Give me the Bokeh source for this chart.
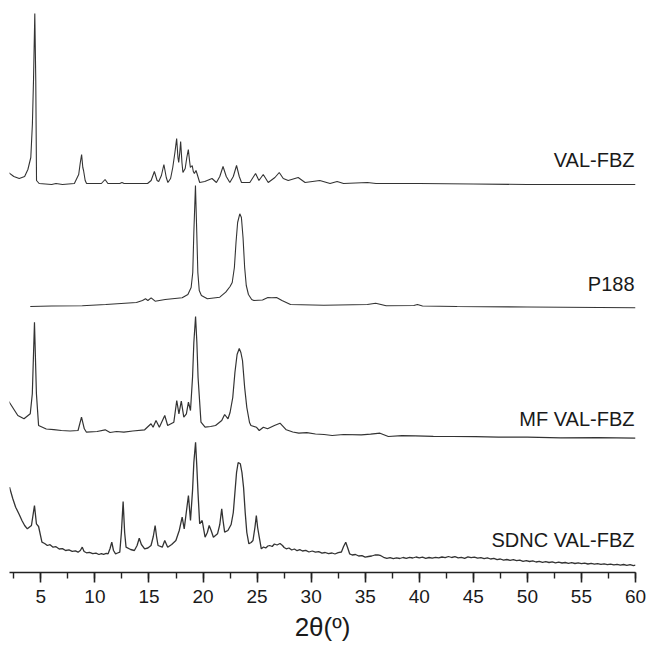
from bokeh.plotting import figure
from bokeh.models import Range1d, SingleIntervalTicker, ColumnDataSource
from bokeh.core.properties import value
from bokeh.embed import file_html
from bokeh.resources import INLINE

# ---- data (2theta in degrees, intensity in stacked arbitrary units) ----
valfbz_2theta = [2.0, 2.5, 3.0, 3.5, 3.8, 4.07, 4.22, 4.32, 4.44, 4.53, 4.6, 4.84, 6.0, 6.4, 7.0, 8.1, 8.5, 8.65, 8.77, 8.88, 8.95,
                 9.1, 9.23, 10.6, 10.94, 11.2, 12.3, 12.5, 12.7, 14.87, 15.2, 15.5, 15.75, 15.9, 16.15, 16.38, 16.6, 16.75,
                 17.0, 17.2, 17.4, 17.56, 17.68, 17.75, 17.85, 17.93, 18.05, 18.14, 18.35, 18.5, 18.64, 18.75, 18.83, 19.0,
                 19.1, 19.2, 19.35, 19.44, 19.69, 20.16, 20.83, 21.24, 21.55, 21.85, 22.15, 22.48, 22.8, 23.1, 23.35, 23.56,
                 24.33, 24.86, 25.17, 25.57, 26.03, 26.65, 27.05, 27.42, 27.88, 28.8, 29.44, 30.8, 31.75, 32.4, 33.0, 35.2,
                 36.0, 40.0, 45.0, 50.0, 55.0, 60.0]
valfbz_int = [400, 396, 394, 396, 403, 415, 449, 492, 559, 492, 392, 389, 388, 389, 388, 389, 398, 410, 418, 405, 402,
              392, 389, 389, 393, 389, 389, 390, 389, 389, 392, 401, 392, 391, 397, 408, 395, 390,
              394, 405, 420, 434, 415, 410, 420, 431, 410, 400, 404, 415, 423, 412, 405, 407,
              401, 399, 402, 399, 390, 391, 394, 390, 396, 406, 396, 390, 396, 407, 396, 390,
              390, 399, 392, 398, 390, 395, 400, 394, 392, 395, 390, 392, 389, 391, 389, 390,
              389, 389, 388.5, 388, 388, 388]

p188_2theta = [4.02, 6.0, 8.83, 11.0, 13.84, 14.4, 14.68, 14.9, 15.2, 15.57, 16.5, 18.07, 18.6, 18.9, 19.05, 19.15, 19.3,
               19.42, 19.52, 19.65, 19.85, 20.4, 21.55, 22.1, 22.5, 22.7, 22.9, 23.05, 23.2, 23.4, 23.55, 23.7, 23.85,
               24.0, 24.2, 24.5, 24.7, 25.5, 26.0, 26.35, 26.8, 27.3,
               28.09, 31.17, 35.2, 35.97, 36.94, 39.5, 39.83, 40.3, 43.5, 50.0, 60.0]
p188_int = [266, 266.5, 266.7, 268, 270, 272, 273.7, 272, 274.7, 271.3, 273, 274.7, 278, 285, 300, 340, 387,
            340, 300, 282, 277, 273.7, 275.3, 280.3, 286, 290, 305, 330, 350, 358.7, 355, 335, 305,
            287, 278, 273, 272, 272.5, 275, 274.7, 275, 272,
            268, 267.3, 268, 269.3, 266.7, 267, 268, 266.5, 266, 265.5, 264.7]

mf_2theta = [1.98, 2.87, 3.44, 4.02, 4.21, 4.41, 4.59, 4.79, 5.5, 6.2, 6.9, 7.7, 8.44, 8.76, 9.02, 9.22, 10.2, 10.95, 11.4,
             12.0, 12.68, 13.5, 14.6, 15.19, 15.38, 15.65, 15.96, 16.46, 16.73, 17.3, 17.57, 17.77, 17.99, 18.22, 18.46,
             18.65, 18.84, 19.03, 19.15, 19.31, 19.43, 19.54, 19.81, 20.19, 20.7, 21.16, 21.73, 22.0, 22.31, 22.5, 22.75,
             22.95, 23.15, 23.35, 23.5, 23.65, 23.85, 24.05, 24.3, 24.43,
             24.93, 25.2, 25.58, 25.97, 26.6, 27.12, 27.7, 28.3, 28.86, 29.6, 30.4, 31.2, 31.94, 33.0, 34.63, 35.5, 36.37,
             37.14, 38.4, 39.64, 41.3, 43.1, 45.2, 47.33, 50.0, 53.1, 56.5, 60.0]
mf_int = [172, 157, 153.7, 158.7, 178.7, 250.3, 178.7, 147, 143.5, 142.8, 142, 141.5, 142, 155.3, 143.7, 140.3, 141, 142.7, 140,
          141, 140.3, 141.5, 142.7, 148.7, 145.3, 152, 145.3, 157, 147, 150.3, 172, 158.7, 171.3, 155.3, 158.7,
          170.3, 162, 195.3, 230, 256, 230, 195.3, 150.3, 145.3, 146, 147, 152, 158, 153.7, 160, 175,
          200, 218, 224, 220, 212, 185, 165, 150, 147,
          145.3, 142, 145.3, 143.7, 147, 149.3, 142.7, 140.5, 139.3, 139.8, 138.5, 138, 137, 138, 137.7, 138.3, 139.3,
          136, 136.8, 136.7, 136.2, 136, 135.8, 135.3, 135.3, 134.7, 134.8, 134.3]

sdnc_2theta = [2.1, 2.4, 2.67, 3.0, 3.25, 3.5, 3.75, 4.13, 4.41, 4.59, 4.79, 5.1, 5.35, 5.6, 5.85, 6.13, 6.4, 6.7, 7.0,
               7.29, 7.6, 7.9, 8.2, 8.44, 8.65, 8.83, 9.0, 9.22, 9.5, 9.8, 10.1, 10.37, 10.6, 10.8, 11.05, 11.22, 11.4,
               11.56, 11.72, 11.91, 12.1, 12.3, 12.45, 12.61, 12.75, 12.88, 13.3, 13.65, 13.9, 14.1, 14.3, 14.6, 14.9,
               15.19, 15.4, 15.57, 15.7, 15.84, 16.23, 16.46, 16.73, 17.1, 17.49, 17.8, 18.07, 18.26, 18.45, 18.65,
               18.84, 19.03, 19.15, 19.31, 19.43, 19.54, 19.69, 19.92, 20.19, 20.4, 20.57, 20.75, 20.96, 21.34, 21.55,
               21.73, 21.85, 22.0, 22.3, 22.6, 22.8, 22.95, 23.1, 23.25, 23.45, 23.6, 23.75, 23.9, 24.05, 24.24, 24.45,
               24.62, 24.8, 24.93, 25.05, 25.2, 25.39, 25.6, 25.8, 26.0, 26.16, 26.4, 26.6, 26.85, 27.12, 27.35, 27.5,
               27.7, 27.95, 28.2, 28.45, 28.7, 28.95, 29.2, 29.5, 29.8, 30.1, 30.4, 30.7, 31.0, 31.3, 31.6, 31.94, 32.2,
               32.5, 32.8, 33.0, 33.2, 33.4, 33.56, 33.8, 34.1, 34.4, 34.7, 35.0, 35.3, 35.6, 35.9, 36.17, 36.45, 36.7,
               37.0, 37.3, 37.6, 37.9, 38.2, 38.5, 38.8, 39.1, 39.4, 39.7, 40.0, 40.3, 40.6, 40.9, 41.2, 41.5, 41.8,
               42.1, 42.4, 42.7, 43.0, 43.3, 43.6, 43.9, 44.2, 44.5, 44.8, 45.1, 45.4, 45.7, 46.0, 46.3, 46.6, 46.9,
               47.2, 47.5, 47.8, 48.1, 48.4, 48.7, 49.0, 49.3, 49.6, 49.9, 50.2, 50.5, 50.8, 51.1, 51.4, 51.7, 52.0,
               52.3, 52.6, 52.9, 53.2, 53.5, 53.8, 54.1, 54.4, 54.7, 55.0, 55.3, 55.6, 55.9, 56.2, 56.5, 56.8, 57.1,
               57.4, 57.7, 58.0, 58.3, 58.6, 58.9, 59.2, 59.5, 59.8, 60.0]
sdnc_int = [85.3, 74, 65.3, 58, 52, 47, 43.7, 47, 67, 48.7, 46, 30.3, 29, 27, 27.8, 25.3, 25.8, 23.5, 23.9,
            22, 22.6, 21.2, 21.6, 20.3, 22, 25.3, 21, 19.7, 20.2, 18.8, 19.3, 18, 18.9, 18.2, 19.2, 18.7, 24,
            30.3, 22, 18.7, 19.5, 20.3, 40, 71, 40, 25.3, 23, 22, 27, 34.3, 28, 23.7, 24.5,
            27, 36, 47, 36, 27, 25.3, 32, 25.3, 28, 32, 42, 55.3, 43.7, 60, 77,
            52, 82, 110, 130.3, 105, 78.7, 48.7, 52, 35.3, 40, 47, 42, 35.3, 38.7, 48,
            63.7, 52, 40.3, 42, 48, 60, 80, 100, 110, 108.7, 100, 85, 60, 40, 28.7, 30,
            32, 45, 57, 45, 35.3, 23.7, 25.5, 24.5, 26.5, 27, 26, 28.5, 27.5, 29, 27, 25,
            23.7, 24.5, 22.5, 23.5, 21.8, 22.8, 21.5, 22.2, 20.5, 21.5, 20.3, 20.8, 19.3, 20, 18.8, 19.5, 18.5,
            19.8, 20.5, 26, 30.3, 24, 18.7, 17.5, 18, 16.5, 16.8, 15.3, 16, 16.5, 17.5, 17.7, 16.8, 15.2,
            14.2, 14.8, 13.8, 14.6, 14, 15, 14.2, 15.2, 14.5, 15.5, 14.6, 15.3, 14.2, 15, 14.3, 15.2, 14.6,
            15.5, 14.8, 16, 15, 15.8, 14.6, 15.2, 14.2, 15.6, 14.8, 15.4, 14.3, 14.9, 13.8, 14.6, 13.5, 14.1,
            12.8, 13.5, 12.4, 13, 12.2, 12.8, 11.8, 12.4, 11.2, 11.9, 11, 11.6, 10.5, 11.2, 10.2, 10.8, 10,
            10.6, 9.6, 10.3, 9.5, 10, 9.2, 9.8, 9, 9.6, 8.8, 9.4, 8.5, 9.1, 8.3, 8.9, 8.1, 8.7,
            7.9, 8.4, 7.6, 8.2, 7.4, 8, 7.2, 7.8, 6.8, 7.4]

series_labels = ["VAL-FBZ", "P188", "MF VAL-FBZ", "SDNC VAL-FBZ"]
label_levels = [413, 289, 154, 33]
x_ticks_step = 5

FONT = "Liberation Sans"
LINE = "#333333"

p = figure(frame_width=626, frame_height=564, output_backend="svg", toolbar_location=None,
           x_range=Range1d(2.1, 60), y_range=Range1d(0, 564),
           min_border_left=9, min_border_right=11, min_border_top=8, min_border_bottom=0)
p.outline_line_color = None
p.grid.visible = False
p.yaxis.visible = False
p.background_fill_color = "white"
p.border_fill_color = "white"

series = [(valfbz_2theta, valfbz_int, 1.1), (p188_2theta, p188_int, 1.1),
          (mf_2theta, mf_int, 1.2), (sdnc_2theta, sdnc_int, 1.3)]
for xs, ys, lw in series:
    src = ColumnDataSource(dict(x=xs, y=ys))
    p.line("x", "y", source=src, line_color=LINE, line_width=lw)

lab_src = ColumnDataSource(dict(x=[60.0] * 4, y=label_levels, t=series_labels))
p.text("x", "y", text="t", source=lab_src, text_align="right", text_baseline="middle",
       text_font=value(FONT), text_font_size="20px", text_color="#1a1a1a", x_offset=-1)

ax = p.xaxis[0]
ax.ticker = SingleIntervalTicker(interval=x_ticks_step, num_minor_ticks=2)
ax.axis_line_width = 1.6
ax.axis_line_color = "#222222"
ax.major_tick_line_width = 1.6
ax.minor_tick_line_width = 1.4
ax.major_tick_line_color = "#222222"
ax.minor_tick_line_color = "#222222"
ax.major_tick_out = 10
ax.major_tick_in = 0
ax.minor_tick_out = 6
ax.minor_tick_in = 0
ax.major_label_text_font = FONT
ax.major_label_text_font_size = "19px"
ax.major_label_text_color = "#1a1a1a"
ax.major_label_standoff = 7
ax.axis_label = "2θ(º)"
ax.axis_label_text_font = FONT
ax.axis_label_text_font_size = "26px"
ax.axis_label_text_font_style = "normal"
ax.axis_label_text_color = "#1a1a1a"
ax.axis_label_standoff = 6

open("out.html", "w").write(file_html(p, INLINE))
